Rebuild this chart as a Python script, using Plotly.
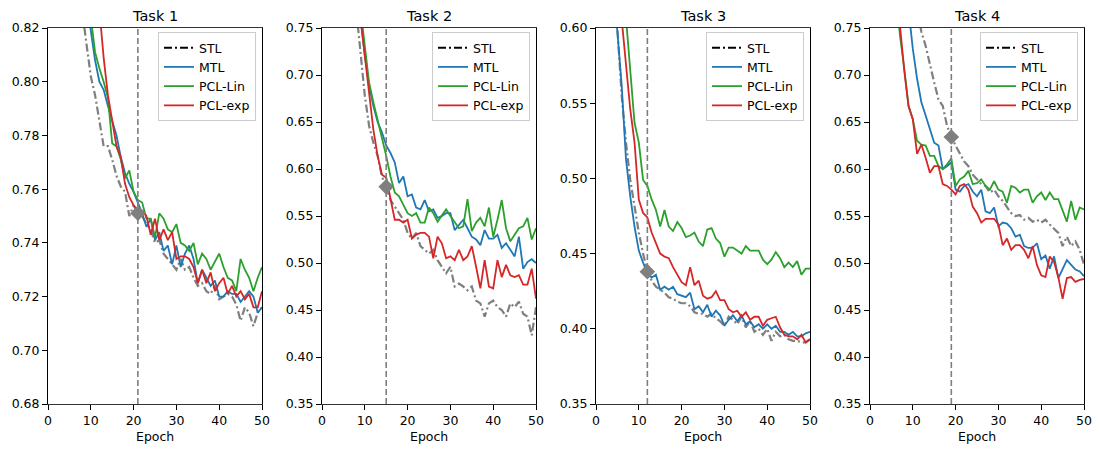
import plotly.graph_objects as go

# ---------------- data ----------------
TASK_TITLES = ["Task 1", "Task 2", "Task 3", "Task 4"]
SERIES_NAMES = ["STL", "MTL", "PCL-Lin", "PCL-exp"]
SPLIT_EPOCHS = [21, 15, 12, 19]
Y_RANGES = [(0.68, 0.82), (0.35, 0.75), (0.35, 0.60), (0.35, 0.75)]
Y_DTICKS = [0.02, 0.05, 0.05, 0.05]
X_TICKS = [0, 10, 20, 30, 40, 50]
X_LABEL = "Epoch"

# Task 1
T1_STL_START = 8
T1_STL = [0.826, 0.814, 0.802, 0.795, 0.786, 0.776, 0.776, 0.771, 0.765, 0.761,
          0.759, 0.750, 0.754, 0.751, 0.750, 0.747, 0.745, 0.740, 0.741, 0.736,
          0.734, 0.732, 0.730, 0.734, 0.730, 0.731, 0.727, 0.724, 0.725, 0.722,
          0.721, 0.724, 0.719, 0.720, 0.721, 0.720, 0.717, 0.711, 0.716, 0.714,
          0.709, 0.714, 0.716]
T1_MTL_START = 9
T1_MTL = [0.830, 0.819, 0.808, 0.800, 0.797, 0.791, 0.785, 0.780, 0.772, 0.766,
          0.762, 0.759, 0.755, 0.751, 0.746, 0.749, 0.741, 0.744, 0.737, 0.739,
          0.732, 0.739, 0.731, 0.736, 0.739, 0.734, 0.725, 0.730, 0.727, 0.724,
          0.726, 0.720, 0.720, 0.722, 0.721, 0.721, 0.718, 0.720, 0.722, 0.720,
          0.714, 0.716]
T1_LIN_START = 10
T1_LIN = [0.824, 0.811, 0.805, 0.800, 0.794, 0.777, 0.776, 0.771, 0.764, 0.767,
          0.759, 0.756, 0.755, 0.749, 0.749, 0.742, 0.751, 0.749, 0.745, 0.744,
          0.747, 0.740, 0.739, 0.737, 0.740, 0.732, 0.736, 0.734, 0.730, 0.733,
          0.736, 0.731, 0.727, 0.726, 0.722, 0.734, 0.730, 0.727, 0.722, 0.727,
          0.731]
T1_EXP_START = 12
T1_EXP = [0.827, 0.809, 0.795, 0.786, 0.776, 0.772, 0.762, 0.757, 0.754, 0.752,
          0.752, 0.750, 0.743, 0.749, 0.741, 0.745, 0.741, 0.744, 0.734, 0.735,
          0.735, 0.734, 0.731, 0.725, 0.730, 0.725, 0.729, 0.722, 0.725, 0.727,
          0.721, 0.724, 0.720, 0.722, 0.719, 0.721, 0.716, 0.716, 0.722]

# Task 2
T2_STL_START = 8
T2_STL = [0.770, 0.721, 0.678, 0.646, 0.628, 0.614, 0.592, 0.581, 0.567, 0.560,
          0.553, 0.546, 0.532, 0.526, 0.532, 0.518, 0.514, 0.510, 0.514, 0.503,
          0.496, 0.489, 0.496, 0.475, 0.478, 0.475, 0.471, 0.475, 0.460, 0.457,
          0.443, 0.457, 0.460, 0.453, 0.450, 0.443, 0.457, 0.453, 0.459, 0.446,
          0.443, 0.423, 0.453]
T2_MTL_START = 9
T2_MTL = [0.760, 0.721, 0.689, 0.667, 0.650, 0.639, 0.625, 0.617, 0.607, 0.585,
          0.592, 0.571, 0.573, 0.559, 0.557, 0.567, 0.555, 0.557, 0.548, 0.550,
          0.553, 0.553, 0.535, 0.541, 0.546, 0.537, 0.528, 0.525, 0.519, 0.535,
          0.526, 0.526, 0.530, 0.516, 0.521, 0.514, 0.507, 0.528, 0.494, 0.501,
          0.504, 0.500]
T2_LIN_START = 9
T2_LIN = [0.770, 0.731, 0.692, 0.671, 0.653, 0.635, 0.614, 0.592, 0.575, 0.571,
          0.562, 0.553, 0.550, 0.553, 0.543, 0.543, 0.559, 0.553, 0.544, 0.550,
          0.557, 0.550, 0.543, 0.537, 0.539, 0.568, 0.534, 0.543, 0.548, 0.539,
          0.559, 0.528, 0.546, 0.567, 0.537, 0.523, 0.530, 0.537, 0.539, 0.548,
          0.525, 0.537]
T2_EXP_START = 9
T2_EXP = [0.760, 0.721, 0.678, 0.642, 0.614, 0.594, 0.591, 0.567, 0.546, 0.546,
          0.543, 0.546, 0.526, 0.530, 0.532, 0.532, 0.528, 0.505, 0.528, 0.521,
          0.505, 0.507, 0.503, 0.514, 0.503, 0.507, 0.518, 0.496, 0.473, 0.503,
          0.475, 0.473, 0.503, 0.485, 0.498, 0.487, 0.485, 0.487, 0.477, 0.477,
          0.494, 0.462]

# Task 3
T3_STL_START = 4
T3_STL = [0.630, 0.600, 0.555, 0.524, 0.499, 0.481, 0.464, 0.450, 0.438, 0.432,
          0.428, 0.426, 0.424, 0.421, 0.420, 0.418, 0.417, 0.417, 0.415, 0.411,
          0.410, 0.410, 0.408, 0.410, 0.407, 0.405, 0.402, 0.408, 0.406, 0.403,
          0.408, 0.401, 0.405, 0.398, 0.400, 0.396, 0.400, 0.392, 0.398, 0.395,
          0.396, 0.393, 0.392, 0.392, 0.391, 0.391, 0.393]
T3_MTL_START = 4
T3_MTL = [0.632, 0.597, 0.562, 0.513, 0.488, 0.468, 0.452, 0.444, 0.437, 0.434,
          0.436, 0.426, 0.428, 0.426, 0.428, 0.423, 0.422, 0.421, 0.424, 0.413,
          0.415, 0.411, 0.416, 0.408, 0.412, 0.409, 0.402, 0.406, 0.409, 0.405,
          0.409, 0.403, 0.405, 0.401, 0.403, 0.400, 0.403, 0.400, 0.402, 0.398,
          0.398, 0.396, 0.398, 0.395, 0.395, 0.397, 0.398]
T3_LIN_START = 7
T3_LIN = [0.607, 0.571, 0.537, 0.524, 0.499, 0.495, 0.486, 0.479, 0.468, 0.479,
          0.468, 0.465, 0.471, 0.467, 0.461, 0.462, 0.464, 0.458, 0.455, 0.466,
          0.467, 0.460, 0.457, 0.448, 0.454, 0.454, 0.452, 0.450, 0.455, 0.452,
          0.452, 0.452, 0.446, 0.443, 0.446, 0.451, 0.447, 0.441, 0.444, 0.441,
          0.445, 0.436, 0.440, 0.440]
T3_EXP_START = 6
T3_EXP = [0.606, 0.575, 0.546, 0.524, 0.486, 0.477, 0.474, 0.464, 0.457, 0.450,
          0.448, 0.447, 0.441, 0.436, 0.431, 0.429, 0.441, 0.429, 0.432, 0.422,
          0.420, 0.421, 0.425, 0.419, 0.419, 0.413, 0.411, 0.412, 0.408, 0.411,
          0.406, 0.408, 0.408, 0.402, 0.406, 0.407, 0.408, 0.401, 0.396, 0.395,
          0.395, 0.393, 0.396, 0.391, 0.393]

# Task 4
T4_STL_START = 11
T4_STL = [0.770, 0.746, 0.731, 0.710, 0.692, 0.674, 0.667, 0.646, 0.634, 0.625,
          0.617, 0.608, 0.603, 0.594, 0.589, 0.584, 0.582, 0.575, 0.578, 0.571,
          0.566, 0.560, 0.553, 0.550, 0.551, 0.546, 0.548, 0.544, 0.546, 0.543,
          0.546, 0.541, 0.537, 0.532, 0.518, 0.528, 0.518, 0.523, 0.514, 0.498]
T4_MTL_START = 9
T4_MTL = [0.770, 0.728, 0.696, 0.671, 0.657, 0.642, 0.628, 0.625, 0.600, 0.603,
          0.607, 0.578, 0.576, 0.582, 0.584, 0.576, 0.571, 0.578, 0.555, 0.553,
          0.559, 0.539, 0.543, 0.542, 0.537, 0.528, 0.530, 0.518, 0.516, 0.516,
          0.521, 0.504, 0.508, 0.494, 0.507, 0.484, 0.494, 0.503, 0.498, 0.493,
          0.491, 0.486]
T4_LIN_START = 6
T4_LIN = [0.790, 0.742, 0.707, 0.667, 0.653, 0.630, 0.626, 0.625, 0.614, 0.614,
          0.603, 0.600, 0.605, 0.611, 0.582, 0.589, 0.592, 0.598, 0.584, 0.585,
          0.589, 0.582, 0.578, 0.587, 0.578, 0.576, 0.564, 0.582, 0.580, 0.575,
          0.578, 0.578, 0.564, 0.571, 0.575, 0.567, 0.575, 0.568, 0.568, 0.557,
          0.544, 0.566, 0.546, 0.559, 0.557]
T4_EXP_START = 6
T4_EXP = [0.800, 0.750, 0.705, 0.667, 0.653, 0.616, 0.626, 0.612, 0.596, 0.603,
          0.603, 0.584, 0.582, 0.578, 0.573, 0.582, 0.584, 0.578, 0.560, 0.553,
          0.543, 0.547, 0.547, 0.547, 0.541, 0.519, 0.526, 0.514, 0.519, 0.519,
          0.514, 0.505, 0.518, 0.498, 0.487, 0.485, 0.507, 0.501, 0.485, 0.462,
          0.484, 0.485, 0.480, 0.482, 0.483]

TASKS = [
    [(T1_STL_START, T1_STL), (T1_MTL_START, T1_MTL), (T1_LIN_START, T1_LIN), (T1_EXP_START, T1_EXP)],
    [(T2_STL_START, T2_STL), (T2_MTL_START, T2_MTL), (T2_LIN_START, T2_LIN), (T2_EXP_START, T2_EXP)],
    [(T3_STL_START, T3_STL), (T3_MTL_START, T3_MTL), (T3_LIN_START, T3_LIN), (T3_EXP_START, T3_EXP)],
    [(T4_STL_START, T4_STL), (T4_MTL_START, T4_MTL), (T4_LIN_START, T4_LIN), (T4_EXP_START, T4_EXP)],
]

# ---------------- style ----------------
# the page body adds an 8px offset, so the figure is laid out in shifted pixel coords
OFF = 8
W, H = 1100 - OFF, 450 - OFF
PANEL_LEFT = [48 - OFF, 322 - OFF, 596 - OFF, 870 - OFF]
PANEL_W = 214
TOP_PX, BOTTOM_PX = 28 - OFF, 404 - OFF
TITLE_PX, XLABEL_PX, LEGEND_TOP_PX = 16 - OFF, 436 - OFF, 32 - OFF
FONT = "DejaVu Sans"
GRAY = "#7f7f7f"
COLORS = [GRAY, "#1f77b4", "#2ca02c", "#d62728"]
DASHDOT = "8px,3px,2px,3px"

fig = go.Figure()
layout = dict(
    width=W, height=H, autosize=False,
    margin=dict(l=0, r=0, t=0, b=0, pad=0, autoexpand=False),
    paper_bgcolor="white", plot_bgcolor="white",
    font=dict(family=FONT, size=12, color="black"),
    showlegend=True,
    annotations=[], shapes=[],
)

ydom = [1 - BOTTOM_PX / H, 1 - TOP_PX / H]

for i in range(4):
    n = i + 1
    xa = "x" if n == 1 else f"x{n}"
    ya = "y" if n == 1 else f"y{n}"
    lg = "legend" if n == 1 else f"legend{n}"
    x0 = PANEL_LEFT[i] / W
    x1 = (PANEL_LEFT[i] + PANEL_W) / W

    # legend-only STL entry (black dash-dot as in reference legend)
    fig.add_trace(go.Scatter(x=[None], y=[None], mode="lines", name=SERIES_NAMES[0],
                             line=dict(color="black", width=2, dash=DASHDOT),
                             xaxis=xa, yaxis=ya, legend=lg, showlegend=True))
    for k, (start, vals) in enumerate(TASKS[i]):
        epochs = list(range(start, start + len(vals)))
        if k == 0:
            fig.add_trace(go.Scatter(x=epochs, y=vals, mode="lines", name=SERIES_NAMES[0],
                                     line=dict(color=GRAY, width=2.2, dash=DASHDOT),
                                     xaxis=xa, yaxis=ya, legend=lg, showlegend=False))
        else:
            fig.add_trace(go.Scatter(x=epochs, y=vals, mode="lines", name=SERIES_NAMES[k],
                                     line=dict(color=COLORS[k], width=1.8),
                                     xaxis=xa, yaxis=ya, legend=lg, showlegend=True))
    # diamond marker at split epoch on STL curve
    s_start, s_vals = TASKS[i][0]
    se = SPLIT_EPOCHS[i]
    fig.add_trace(go.Scatter(x=[se], y=[s_vals[se - s_start]], mode="markers",
                             marker=dict(symbol="diamond", size=12, color=GRAY),
                             xaxis=xa, yaxis=ya, showlegend=False, hoverinfo="skip",
                             cliponaxis=False))
    layout["shapes"].append(dict(type="line", xref=xa, yref=f"{ya} domain",
                                 x0=se, x1=se, y0=0, y1=1,
                                 line=dict(color=GRAY, width=1.6, dash="6px,3px")))

    ymin, ymax = Y_RANGES[i]
    nt = int(round((ymax - ymin) / Y_DTICKS[i]))
    yticks = [round(ymin + j * Y_DTICKS[i], 2) for j in range(nt + 1)]
    layout["xaxis" if n == 1 else f"xaxis{n}"] = dict(
        domain=[x0, x1], anchor=ya, range=[0, 50], tickvals=X_TICKS,
        ticks="outside", ticklen=5, tickwidth=1, tickcolor="black",
        showline=True, linecolor="#333", linewidth=1, mirror=True, automargin=False,
        showgrid=False, zeroline=False, tickfont=dict(size=12.5, family=FONT))
    layout["yaxis" if n == 1 else f"yaxis{n}"] = dict(
        domain=ydom, anchor=xa, range=[ymin, ymax], tickvals=yticks,
        ticktext=[f"{v:.2f}" for v in yticks], automargin=False,
        ticks="outside", ticklen=5, tickwidth=1, tickcolor="black",
        showline=True, linecolor="black", linewidth=1, mirror=True,
        showgrid=False, zeroline=False, tickfont=dict(size=12.5, family=FONT))
    layout[lg] = dict(
        x=(PANEL_LEFT[i] + PANEL_W - 6) / W, xanchor="right",
        y=1 - LEGEND_TOP_PX / H, yanchor="top",
        bgcolor="rgba(255,255,255,0.85)", bordercolor="#cccccc", borderwidth=1,
        font=dict(size=12.5, family=FONT), itemwidth=30, traceorder="normal")

    cx = (PANEL_LEFT[i] + PANEL_W / 2) / W
    layout["annotations"].append(dict(text=TASK_TITLES[i], x=cx, y=1 - TITLE_PX / H,
                                      xref="paper", yref="paper", showarrow=False,
                                      xanchor="center", yanchor="middle",
                                      font=dict(size=14.5, family=FONT)))
    layout["annotations"].append(dict(text=X_LABEL, x=cx, y=1 - XLABEL_PX / H,
                                      xref="paper", yref="paper", showarrow=False,
                                      xanchor="center", yanchor="middle",
                                      font=dict(size=12.5, family=FONT)))

fig.update_layout(**layout)
fig.write_html("out.html")
